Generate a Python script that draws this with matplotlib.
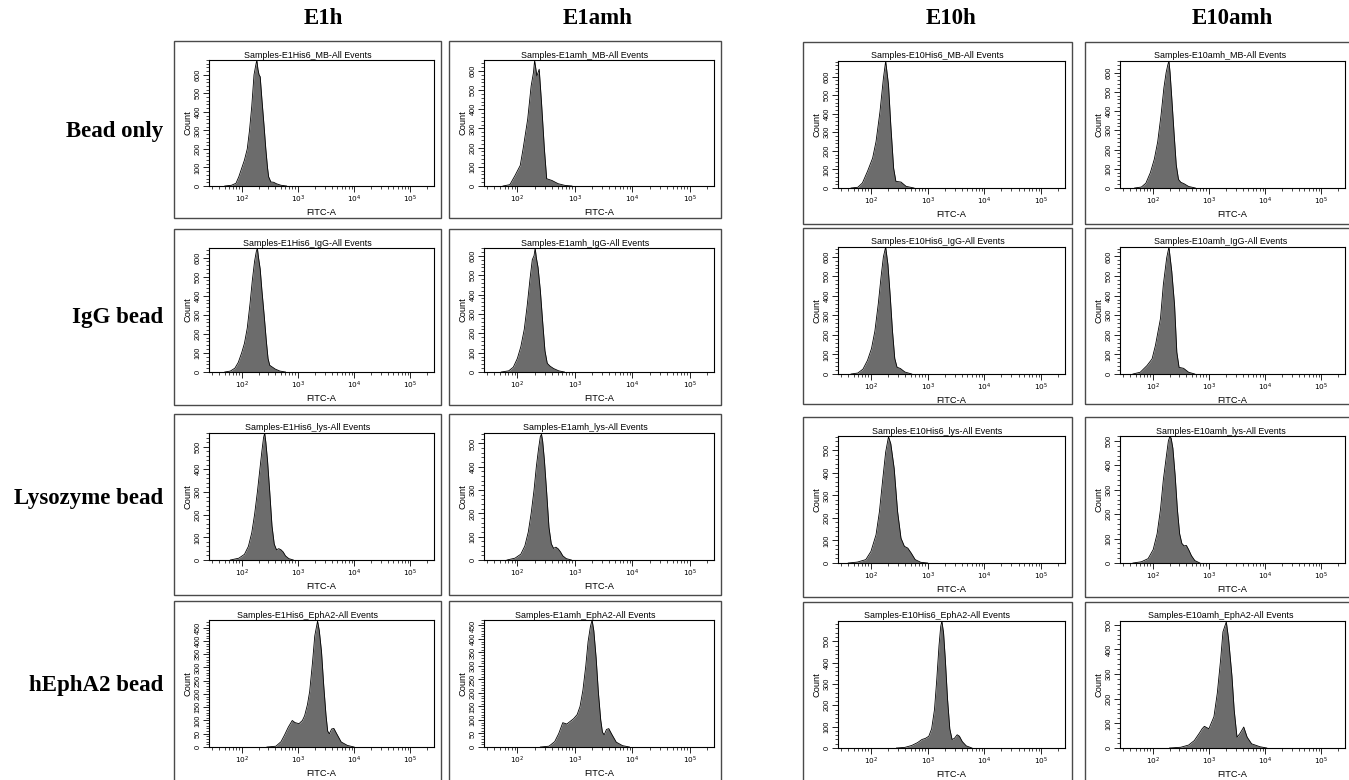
import matplotlib
matplotlib.use("Agg")
import matplotlib.pyplot as plt
from matplotlib.patches import Rectangle
from matplotlib.ticker import LogLocator, MultipleLocator, NullFormatter, FixedLocator
import numpy as np

plt.rcParams['font.family'] = ['Liberation Sans', 'DejaVu Sans']

# ---------------- data ----------------
col_headers = ["E1h", "E1amh", "E10h", "E10amh"]
row_labels = ["Bead only", "IgG bead", "Lysozyme bead", "hEphA2 bead"]
panel_titles = [
    ["Samples-E1His6_MB-All Events", "Samples-E1amh_MB-All Events",
     "Samples-E10His6_MB-All Events", "Samples-E10amh_MB-All Events"],
    ["Samples-E1His6_IgG-All Events", "Samples-E1amh_IgG-All Events",
     "Samples-E10His6_IgG-All Events", "Samples-E10amh_IgG-All Events"],
    ["Samples-E1His6_lys-All Events", "Samples-E1amh_lys-All Events",
     "Samples-E10His6_lys-All Events", "Samples-E10amh_lys-All Events"],
    ["Samples-E1His6_EphA2-All Events", "Samples-E1amh_EphA2-All Events",
     "Samples-E10His6_EphA2-All Events", "Samples-E10amh_EphA2-All Events"],
]

# log10(FITC-A) positions and counts
e1h_mb_x = [1.70, 1.82, 1.90, 1.95, 2.00, 2.05, 2.10, 2.14, 2.18, 2.22, 2.25, 2.27, 2.29, 2.31, 2.33, 2.36, 2.40, 2.43, 2.46, 2.48, 2.52, 2.57, 2.62, 2.70, 2.80]
e1h_mb_y = [0, 4, 15, 50, 95, 140, 200, 300, 430, 600, 650, 680, 630, 600, 590, 470, 320, 200, 100, 50, 22, 20, 12, 4, 0]
e1h_igg_x = [1.70, 1.80, 1.88, 1.94, 2.00, 2.05, 2.10, 2.15, 2.19, 2.23, 2.26, 2.28, 2.30, 2.33, 2.36, 2.40, 2.44, 2.47, 2.50, 2.55, 2.60, 2.68, 2.78]
e1h_igg_y = [0, 5, 20, 50, 100, 150, 230, 360, 480, 580, 630, 650, 600, 540, 430, 300, 160, 70, 35, 25, 15, 5, 0]
e1h_lys_x = [1.80, 1.95, 2.05, 2.12, 2.18, 2.23, 2.28, 2.32, 2.36, 2.39, 2.41, 2.43, 2.46, 2.50, 2.54, 2.58, 2.62, 2.66, 2.70, 2.74, 2.78, 2.84, 2.92]
e1h_lys_y = [0, 8, 25, 60, 120, 200, 300, 390, 480, 540, 560, 520, 440, 300, 150, 70, 45, 50, 45, 35, 18, 6, 0]
e1h_epha2_x = [2.45, 2.61, 2.70, 2.76, 2.83, 2.90, 2.95, 3.02, 3.08, 3.12, 3.17, 3.21, 3.26, 3.30, 3.35, 3.38, 3.42, 3.46, 3.50, 3.53, 3.56, 3.60, 3.64, 3.69, 3.77, 3.88, 4.00]
e1h_epha2_y = [0, 3, 20, 44, 75, 100, 92, 88, 100, 118, 160, 210, 319, 419, 475, 440, 360, 231, 120, 60, 50, 68, 70, 50, 19, 6, 0]

e1amh_mb_x = [1.75, 1.87, 1.96, 2.05, 2.10, 2.18, 2.24, 2.28, 2.30, 2.34, 2.38, 2.42, 2.47, 2.51, 2.60, 2.71, 2.83, 2.95]
e1amh_mb_y = [0, 7, 55, 107, 194, 349, 522, 591, 655, 574, 609, 436, 194, 38, 29, 12, 3, 0]
e1amh_igg_x = [1.72, 1.85, 1.93, 2.00, 2.06, 2.12, 2.17, 2.22, 2.26, 2.29, 2.31, 2.33, 2.36, 2.40, 2.44, 2.48, 2.52, 2.57, 2.63, 2.72, 2.82]
e1amh_igg_y = [0, 6, 25, 70, 130, 220, 340, 480, 580, 600, 640, 590, 540, 420, 260, 110, 45, 30, 18, 6, 0]
e1amh_lys_x = [1.82, 1.96, 2.06, 2.13, 2.19, 2.24, 2.29, 2.33, 2.37, 2.40, 2.42, 2.44, 2.47, 2.51, 2.55, 2.59, 2.63, 2.67, 2.71, 2.75, 2.79, 2.85, 2.94]
e1amh_lys_y = [0, 8, 25, 60, 120, 200, 300, 400, 480, 530, 540, 510, 430, 290, 140, 70, 50, 55, 48, 35, 18, 6, 0]
e1amh_epha2_x = [2.40, 2.55, 2.65, 2.72, 2.79, 2.86, 2.92, 2.98, 3.04, 3.09, 3.14, 3.19, 3.23, 3.27, 3.30, 3.33, 3.37, 3.41, 3.45, 3.48, 3.51, 3.55, 3.59, 3.64, 3.72, 3.83, 3.95]
e1amh_epha2_y = [0, 3, 20, 50, 90, 85, 95, 105, 120, 150, 210, 300, 390, 445, 470, 430, 330, 200, 100, 55, 45, 65, 68, 48, 18, 5, 0]

e10h_mb_x = [1.65, 1.77, 1.85, 1.94, 2.03, 2.09, 2.16, 2.22, 2.26, 2.31, 2.35, 2.40, 2.44, 2.53, 2.62, 2.76]
e10h_mb_y = [0, 4, 27, 90, 161, 250, 412, 591, 684, 555, 340, 107, 36, 32, 9, 0]
e10h_igg_x = [1.65, 1.77, 1.86, 1.94, 2.01, 2.07, 2.13, 2.18, 2.22, 2.26, 2.30, 2.34, 2.38, 2.42, 2.46, 2.52, 2.60, 2.72]
e10h_igg_y = [0, 5, 25, 70, 130, 220, 360, 500, 600, 650, 560, 400, 220, 80, 35, 28, 10, 0]
e10h_lys_x = [1.60, 1.76, 1.91, 2.00, 2.09, 2.15, 2.21, 2.26, 2.31, 2.35, 2.41, 2.47, 2.53, 2.59, 2.65, 2.71, 2.78, 2.88, 3.00]
e10h_lys_y = [0, 4, 15, 51, 125, 228, 375, 492, 560, 529, 419, 228, 110, 74, 66, 44, 15, 3, 0]
e10h_epha2_x = [2.45, 2.60, 2.72, 2.82, 2.90, 2.96, 3.02, 3.07, 3.12, 3.16, 3.20, 3.23, 3.25, 3.28, 3.31, 3.35, 3.39, 3.43, 3.47, 3.52, 3.56, 3.61, 3.68, 3.78]
e10h_epha2_y = [0, 3, 12, 25, 40, 45, 55, 90, 180, 320, 480, 570, 595, 540, 420, 230, 90, 40, 45, 62, 55, 30, 10, 0]

e10amh_mb_x = [1.68, 1.80, 1.88, 1.96, 2.03, 2.09, 2.15, 2.20, 2.24, 2.27, 2.29, 2.31, 2.34, 2.38, 2.42, 2.46, 2.50, 2.56, 2.64, 2.76]
e10amh_mb_y = [0, 5, 25, 80, 150, 240, 380, 520, 600, 640, 660, 600, 470, 290, 120, 45, 30, 22, 8, 0]
e10amh_igg_x = [1.65, 1.78, 1.90, 1.99, 2.05, 2.14, 2.19, 2.25, 2.29, 2.34, 2.39, 2.43, 2.47, 2.55, 2.64, 2.75]
e10amh_igg_y = [0, 9, 43, 77, 146, 284, 455, 593, 648, 524, 352, 112, 34, 29, 9, 0]
e10amh_lys_x = [1.65, 1.80, 1.92, 2.01, 2.08, 2.14, 2.19, 2.24, 2.28, 2.31, 2.33, 2.36, 2.40, 2.44, 2.48, 2.52, 2.56, 2.60, 2.64, 2.69, 2.75, 2.84]
e10amh_lys_y = [0, 5, 18, 55, 120, 220, 340, 430, 500, 520, 510, 470, 360, 220, 120, 80, 70, 72, 55, 30, 10, 0]
e10amh_epha2_x = [2.30, 2.50, 2.64, 2.74, 2.83, 2.88, 2.92, 3.00, 3.09, 3.15, 3.21, 3.25, 3.31, 3.35, 3.41, 3.45, 3.50, 3.55, 3.62, 3.68, 3.76, 3.91, 4.03]
e10amh_epha2_y = [0, 3, 12, 30, 60, 78, 88, 78, 127, 223, 361, 471, 512, 443, 292, 154, 44, 58, 85, 44, 17, 5, 0]

y_max = [
    [680, 657, 684, 660],
    [650, 640, 650, 648],
    [560, 545, 563, 520],
    [479, 470, 595, 515],
]
y_major_step = [
    [100, 100, 100, 100],
    [100, 100, 100, 100],
    [100, 100, 100, 100],
    [50, 50, 100, 100],
]
x_major_ticks = [1e2, 1e3, 1e4, 1e5]
x_tick_labels = [r'$10^{2}$', r'$10^{3}$', r'$10^{4}$', r'$10^{5}$']
x_log_range = (1.42, 5.42)

series = [
    [(e1h_mb_x, e1h_mb_y), (e1amh_mb_x, e1amh_mb_y), (e10h_mb_x, e10h_mb_y), (e10amh_mb_x, e10amh_mb_y)],
    [(e1h_igg_x, e1h_igg_y), (e1amh_igg_x, e1amh_igg_y), (e10h_igg_x, e10h_igg_y), (e10amh_igg_x, e10amh_igg_y)],
    [(e1h_lys_x, e1h_lys_y), (e1amh_lys_x, e1amh_lys_y), (e10h_lys_x, e10h_lys_y), (e10amh_lys_x, e10amh_lys_y)],
    [(e1h_epha2_x, e1h_epha2_y), (e1amh_epha2_x, e1amh_epha2_y), (e10h_epha2_x, e10h_epha2_y), (e10amh_epha2_x, e10amh_epha2_y)],
]

# ---------------- layout (pixels) ----------------
W, H = 1349, 780
cols_outer = [(174, 441), (449, 721), (803, 1072), (1085, 1358)]
rows_outer_left = [(41, 218), (229, 405), (414, 595), (601, 784)]
rows_outer_right = [(42, 224), (228, 404), (417, 597), (602, 784)]
inner_bottom_off_left = [145, 143, 146, 146]
inner_bottom_off_right = [146, 146, 146, 146]
row_label_y = [132, 318, 499, 686]
header_x = [323, 598, 951, 1232]

fig = plt.figure(figsize=(W / 100, H / 100), dpi=100)


def fx(p):
    return p / W


def fy(p):
    return 1 - p / H


FILL = '#6c6c6c'

for c in range(4):
    L, R = cols_outer[c]
    rows = rows_outer_left if c < 2 else rows_outer_right
    offs = inner_bottom_off_left if c < 2 else inner_bottom_off_right
    for r in range(4):
        T, B = rows[r]
        fig.add_artist(Rectangle((fx(L), fy(B)), (R - L) / W, (B - T) / H,
                                 transform=fig.transFigure, fill=False,
                                 ec='#4a4a4a', lw=1.0))
        il = L + 35
        ir = min(R - 7, 1345)
        it = T + 19
        ib = T + offs[r]
        ax = fig.add_axes([fx(il), fy(ib), (ir - il) / W, (ib - it) / H])
        xs, ys = series[r][c]
        xv = 10 ** np.asarray(xs)
        ax.fill_between(xv, 0, ys, color=FILL, lw=0)
        ax.plot(xv, ys, color='black', lw=0.6)
        ax.set_xscale('log')
        ax.set_xlim(10 ** x_log_range[0], 10 ** x_log_range[1])
        ax.set_ylim(0, y_max[r][c])
        ax.xaxis.set_major_locator(FixedLocator(x_major_ticks))
        ax.set_xticklabels(x_tick_labels)
        ax.xaxis.set_minor_locator(LogLocator(base=10, subs=np.arange(2, 10), numticks=20))
        ax.xaxis.set_minor_formatter(NullFormatter())
        step = y_major_step[r][c]
        ax.yaxis.set_major_locator(MultipleLocator(step))
        ax.yaxis.set_minor_locator(MultipleLocator(step / 5))
        ax.tick_params(axis='x', which='major', labelsize=5.3, length=4,
                       width=0.6, pad=1.5, direction='out')
        ax.tick_params(axis='y', which='major', labelsize=5.3, length=4,
                       width=0.6, pad=1.2, direction='out')
        ax.tick_params(axis='both', which='minor', length=2.2, width=0.5, direction='out')
        for lab in ax.get_yticklabels():
            lab.set_rotation(90)
            lab.set_va('center')
        for s in ax.spines.values():
            s.set_linewidth(0.8)
        ax.set_xlabel('FITC-A', fontsize=6.7, labelpad=2.5)
        ax.set_ylabel('Count', fontsize=6.7, labelpad=1.5)
        fig.text(fx((L + min(R, 1356)) / 2), fy(it - 0.5), panel_titles[r][c],
                 ha='center', va='bottom', fontsize=6.4)

serif = ['Liberation Serif', 'DejaVu Serif']
for c in range(4):
    fig.text(fx(header_x[c]), fy(19), col_headers[c], ha='center', va='center',
             fontsize=16.5, fontweight='bold', family=serif)
for r in range(4):
    fig.text(fx(163), fy(row_label_y[r]), row_labels[r], ha='right', va='center',
             fontsize=16.5, fontweight='bold', family=serif)

fig.savefig('out.png', dpi=100)
